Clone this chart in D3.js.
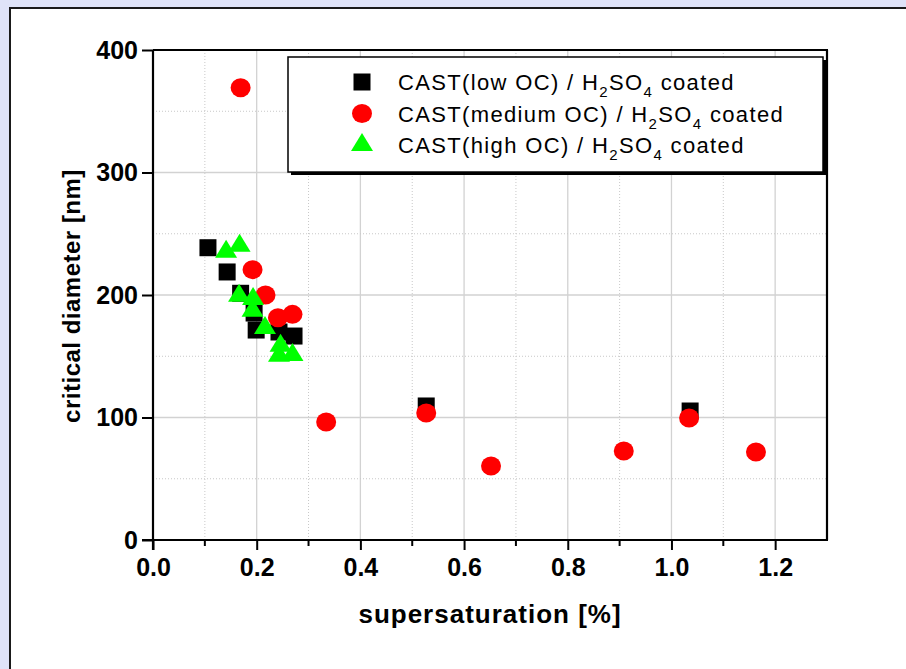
<!DOCTYPE html>
<html>
<head>
<meta charset="utf-8">
<script src="https://cdn.jsdelivr.net/npm/d3@7"></script>
<style>
html,body{margin:0;padding:0;background:#dfe3f8;}
svg{display:block;}
</style>
</head>
<body>
<svg id="chart" width="906" height="669"></svg>
<script>
// ---- data ----
const lowOC_x = [0.106, 0.143, 0.169, 0.195, 0.199, 0.243, 0.272, 0.527, 1.036];
const lowOC_y = [238.6, 218.8, 201.4, 185.3, 171.4, 169.8, 166.5, 109.4, 105.3];
const medOC_x = [0.169, 0.192, 0.217, 0.241, 0.269, 0.334, 0.527, 0.652, 0.908, 1.034, 1.163];
const medOC_y = [369.2, 220.7, 200.0, 181.5, 184.2, 96.3, 103.7, 60.4, 72.7, 99.6, 71.8];
const highOC_x = [0.141, 0.167, 0.166, 0.193, 0.192, 0.216, 0.246, 0.243, 0.269];
const highOC_y = [235.3, 240.2, 199.4, 196.7, 187.2, 173.1, 158.6, 150.4, 151.0];
const xTicks = [0.0, 0.2, 0.4, 0.6, 0.8, 1.0, 1.2];
const xMinor = [0.1, 0.3, 0.5, 0.7, 0.9, 1.1];
const yTicks = [0, 100, 200, 300, 400];
const yMinor = [50, 150, 250, 350];
const legendLabels = [
  ["CAST(low OC) / H", "2", "SO", "4", " coated"],
  ["CAST(medium OC) / H", "2", "SO", "4", " coated"],
  ["CAST(high OC) / H", "2", "SO", "4", " coated"]
];
const xTitle = "supersaturation [%]";
const yTitle = "critical diameter [nm]";

// ---- layout ----
const svg = d3.select("#chart");
const L = 153, R = 827, T = 50, B = 540;
const x = d3.scaleLinear().domain([0, 1.3]).range([L, R]);
const y = d3.scaleLinear().domain([0, 400]).range([B, T]);

// frame
svg.append("rect").attr("x", 0).attr("y", 0).attr("width", 906).attr("height", 669).attr("fill", "#dfe3f8");
svg.append("rect").attr("x", 10).attr("y", 8).attr("width", 920).attr("height", 700)
  .attr("fill", "#ffffff").attr("stroke", "#1a1a1a").attr("stroke-width", 2);

const font = "Liberation Sans, Arial, Helvetica, sans-serif";

// grid
const g = svg.append("g");
g.selectAll(".gxM").data(xTicks.filter(d => d > 0)).join("line")
  .attr("x1", d => x(d)).attr("x2", d => x(d)).attr("y1", T).attr("y2", B)
  .attr("stroke", "#d2d2d2").attr("stroke-width", 1.3);
g.selectAll(".gxm").data(xMinor).join("line")
  .attr("x1", d => x(d)).attr("x2", d => x(d)).attr("y1", T).attr("y2", B)
  .attr("stroke", "#c8c8c8").attr("stroke-width", 1).attr("stroke-dasharray", "1,2");
g.selectAll(".gyM").data(yTicks.filter(d => d > 0 && d < 400)).join("line")
  .attr("x1", L).attr("x2", R).attr("y1", d => y(d)).attr("y2", d => y(d))
  .attr("stroke", "#d2d2d2").attr("stroke-width", 1.3);
g.selectAll(".gym").data(yMinor).join("line")
  .attr("x1", L).attr("x2", R).attr("y1", d => y(d)).attr("y2", d => y(d))
  .attr("stroke", "#c8c8c8").attr("stroke-width", 1).attr("stroke-dasharray", "1,2");

// axes
const xAxis = d3.axisBottom(x).tickValues(xTicks).tickFormat(d3.format(".1f")).tickSize(10).tickPadding(8);
const yAxis = d3.axisLeft(y).tickValues(yTicks).tickFormat(d3.format("d")).tickSize(11).tickPadding(4);
const gx = svg.append("g").attr("transform", `translate(0,${B})`).call(xAxis);
const gy = svg.append("g").attr("transform", `translate(${L},0)`).call(yAxis);
[gx, gy].forEach(a => {
  a.select(".domain").remove();
  a.selectAll(".tick line").attr("stroke", "#000").attr("stroke-width", 2);
  a.selectAll(".tick text").attr("fill", "#000").attr("font-family", font)
    .attr("font-weight", "bold").attr("font-size", 25);
});
gx.selectAll(".tick text").attr("dy", "0.72em");
// minor x ticks
svg.append("g").selectAll("line").data(xMinor).join("line")
  .attr("x1", d => x(d)).attr("x2", d => x(d)).attr("y1", B).attr("y2", B + 6)
  .attr("stroke", "#000").attr("stroke-width", 2);
// axis box
svg.append("line").attr("x1", L).attr("x2", L).attr("y1", T).attr("y2", B + 10).attr("stroke", "#000").attr("stroke-width", 2.2);
svg.append("line").attr("x1", L - 11).attr("x2", R + 1).attr("y1", B).attr("y2", B).attr("stroke", "#000").attr("stroke-width", 2.2);
svg.append("line").attr("x1", L).attr("x2", R + 1).attr("y1", T).attr("y2", T).attr("stroke", "#000").attr("stroke-width", 2.2);
svg.append("line").attr("x1", R).attr("x2", R).attr("y1", T).attr("y2", B).attr("stroke", "#000").attr("stroke-width", 2.2);

// titles
svg.append("text").attr("x", (L + R) / 2).attr("y", 623).attr("text-anchor", "middle")
  .attr("font-family", font).attr("font-weight", "bold").attr("font-size", 26).attr("letter-spacing", 1)
  .text(xTitle);
svg.append("text").attr("transform", `translate(80,${(T + B) / 2 + 1}) rotate(-90)`).attr("text-anchor", "middle")
  .attr("font-family", font).attr("font-weight", "bold").attr("font-size", 24).attr("letter-spacing", 0.5)
  .text(yTitle);

// symbols
const sq = 17, rx = 10, ry = 9.5, tw = 22, th = 18;
function triPath(cx, cy) {
  return `M${cx},${cy - th * 2 / 3}L${cx + tw / 2},${cy + th / 3}L${cx - tw / 2},${cy + th / 3}Z`;
}
const pts = svg.append("g");
pts.selectAll(".sq").data(d3.zip(lowOC_x, lowOC_y)).join("rect")
  .attr("x", d => x(d[0]) - sq / 2).attr("y", d => y(d[1]) - sq / 2)
  .attr("width", sq).attr("height", sq).attr("fill", "#000");
pts.selectAll(".ci").data(d3.zip(medOC_x, medOC_y)).join("ellipse")
  .attr("cx", d => x(d[0])).attr("cy", d => y(d[1])).attr("rx", rx).attr("ry", ry).attr("fill", "#ff0000");
pts.selectAll(".tr").data(d3.zip(highOC_x, highOC_y)).join("path")
  .attr("d", d => triPath(x(d[0]), y(d[1]))).attr("fill", "#00ff00");

// legend
const lg = svg.append("g");
const lx0 = 288, ly0 = 57, lw = 535, lh = 115;
lg.append("rect").attr("x", lx0 + 3).attr("y", ly0 + 3).attr("width", lw).attr("height", lh).attr("fill", "#000");
lg.append("rect").attr("x", lx0).attr("y", ly0).attr("width", lw).attr("height", lh)
  .attr("fill", "#fff").attr("stroke", "#000").attr("stroke-width", 1.5);
const rows = [82, 113.5, 145];
lg.append("rect").attr("x", 362 - sq / 2).attr("y", rows[0] - sq / 2).attr("width", sq).attr("height", sq).attr("fill", "#000");
lg.append("ellipse").attr("cx", 362).attr("cy", rows[1]).attr("rx", rx).attr("ry", ry).attr("fill", "#ff0000");
lg.append("path").attr("d", triPath(362, rows[2])).attr("fill", "#00ff00");
legendLabels.forEach((parts, i) => {
  const t = lg.append("text").attr("x", 398).attr("y", rows[i] + 8)
    .attr("font-family", font).attr("font-size", 22).attr("letter-spacing", 1.35).attr("fill", "#000");
  t.append("tspan").text(parts[0]);
  t.append("tspan").attr("font-size", 15).attr("dy", 7).text(parts[1]);
  t.append("tspan").attr("dy", -7).text(parts[2]);
  t.append("tspan").attr("font-size", 15).attr("dy", 7).text(parts[3]);
  t.append("tspan").attr("dy", -7).text(parts[4]);
});
</script>
</body>
</html>
